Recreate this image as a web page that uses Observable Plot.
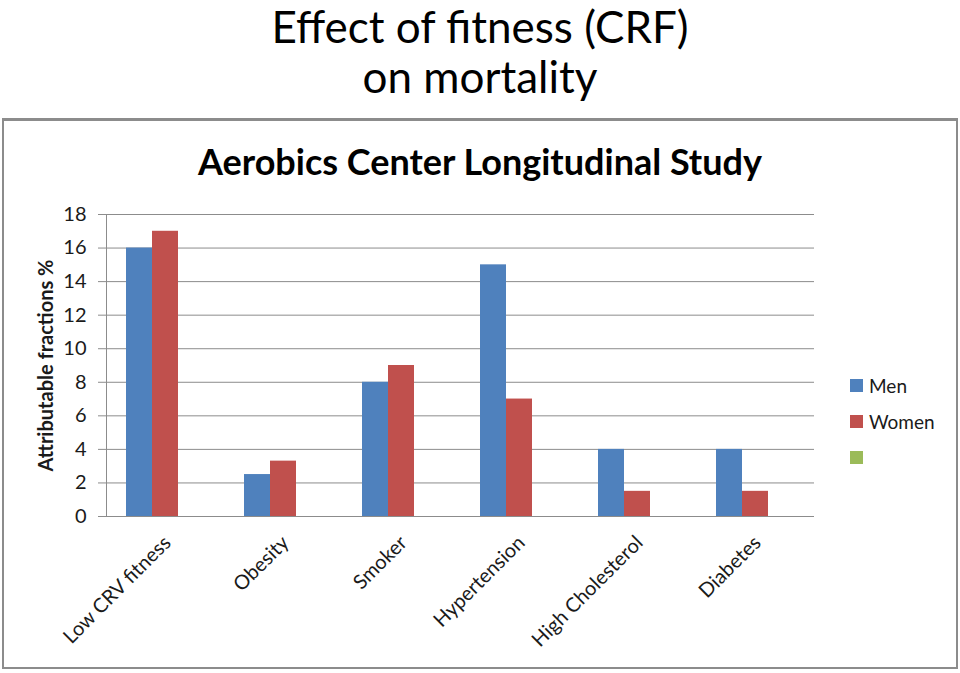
<!DOCTYPE html>
<html>
<head>
<meta charset="utf-8">
<script src="https://cdn.jsdelivr.net/npm/d3@7"></script>
<script src="https://cdn.jsdelivr.net/npm/@observablehq/plot@0.6"></script>
<style>
  html, body { margin: 0; padding: 0; background: #fff; }
  body { width: 960px; height: 673px; position: relative; overflow: hidden; font-family: Lato, "Open Sans", sans-serif; }
  .pt { position: absolute; left: 0; width: 960px; text-align: center; font-size: 44px; color: #000; }
  #pt1 { top: 0px; line-height: 53px; }
  #pt2 { top: 56px; line-height: 40px; }
  #box { position: absolute; left: 2px; top: 118px; width: 952px; height: 546px; border: 2px solid #8c8c8c; border-top-width: 3px; }
  #charttitle { position: absolute; left: 0; top: 139px; width: 960px; text-align: center; font-size: 36px; font-weight: 700; color: #000; }
  #chart { position: absolute; left: 0; top: 118px; }
  #legend { position: absolute; left: 850px; top: 367px; font-size: 19px; color: #1a1a1a; }
  .li { height: 36px; display: flex; align-items: center; }
  .sw { width: 13px; height: 13px; margin-right: 6px; }
</style>
</head>
<body>
<div class="pt" id="pt1">Effect of fitness (CRF)</div>
<div class="pt" id="pt2">on mortality</div>
<div id="box"></div>
<div id="charttitle">Aerobics Center Longitudinal Study</div>
<div id="chart"></div>
<div id="legend"></div>
<script>
const categories = ["Low CRV fitness", "Obesity", "Smoker", "Hypertension", "High Cholesterol", "Diabetes"];
const series = ["Men", "Women", ""];
const men = [16, 2.5, 8, 15, 4, 4];
const women = [17, 3.3, 9, 7, 1.5, 1.5];
const colors = ["#4F81BD", "#C0504D", "#9BBB59"];
const yTicks = [0, 2, 4, 6, 8, 10, 12, 14, 16, 18];

const data = [];
categories.forEach((c, i) => {
  data.push({category: c, series: "Men", value: men[i]});
  data.push({category: c, series: "Women", value: women[i]});
});

const plot = Plot.plot({
  width: 960,
  height: 555,
  marginTop: 96,
  marginBottom: 157,
  marginLeft: 105,
  marginRight: 146,
  style: {fontFamily: "Lato, 'Open Sans', sans-serif", fontSize: "18px", color: "#1a1a1a", background: "transparent"},
  fx: {domain: categories, padding: 0, label: null, axis: null},
  x: {domain: series, paddingInner: 0, paddingOuter: 0.73, axis: null},
  y: {domain: [0, 18], ticks: yTicks, label: null, axis: null},
  color: {domain: series, range: colors},
  marks: [
    Plot.gridY(yTicks, {stroke: "#8c8c8c", strokeOpacity: 1, strokeWidth: 1}),
    Plot.barY(data, {fx: "category", x: "series", y: "value", fill: "series"}),
    Plot.axisFx({domain: categories, anchor: "bottom", tickSize: 0, tickRotate: -45, tickPadding: 23, label: null, fontSize: 20, dx: 2}),
    Plot.axisY(yTicks, {anchor: "left", tickSize: 8, tickPadding: 12, label: null, fontSize: 20, facetAnchor: "left", stroke: "#8c8c8c"}),
    Plot.frame({anchor: "left", facetAnchor: "left", stroke: "#8c8c8c"}),
    Plot.ruleY([0], {stroke: "#8c8c8c"}),
    Plot.text(["Attributable fractions %"], {frameAnchor: "left", facetAnchor: "left", textAnchor: "middle", dx: -60, rotate: -90, fontSize: 20, fontWeight: 700, fill: "#1a1a1a"})
  ]
});
document.getElementById("chart").appendChild(plot);

const legend = document.getElementById("legend");
series.forEach((s, i) => {
  const row = document.createElement("div");
  row.className = "li";
  const sw = document.createElement("div");
  sw.className = "sw";
  sw.style.background = colors[i];
  row.appendChild(sw);
  const t = document.createElement("span");
  t.textContent = s;
  row.appendChild(t);
  legend.appendChild(row);
});
</script>
</body>
</html>
